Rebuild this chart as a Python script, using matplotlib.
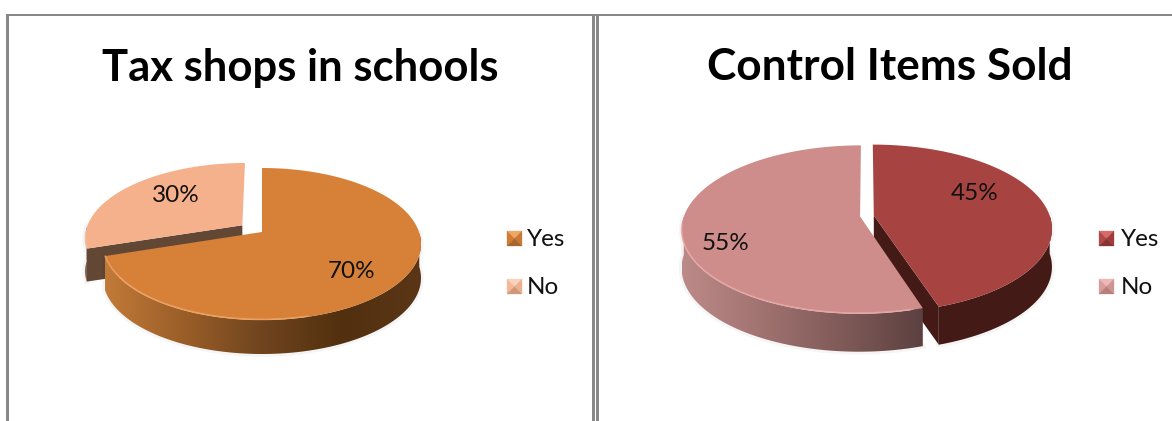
import numpy as np
import matplotlib
matplotlib.use("Agg")
import matplotlib.pyplot as plt
from matplotlib.colors import LinearSegmentedColormap
from matplotlib.patches import Polygon

# Chart content
categories = ["Yes", "No"]
tax_shops = [70, 30]
control_items = [45, 55]
title_left = "Tax shops in schools"
title_right = "Control Items Sold"

W, H = 1172, 421
fig = plt.figure(figsize=(W / 100, H / 100), dpi=100, facecolor="white")
ax = fig.add_axes([0, 0, 1, 1])
ax.set_xlim(0, W)
ax.set_ylim(H, 0)
ax.axis("off")
FONT = "Lato"
GRAY = "#888888"


def project(theta_deg, r, offset, geom):
    """Perspective projection of a point of the tilted disc into pixels."""
    cx, cy, rx, s, k = geom
    t = np.radians(theta_deg)
    u = r * np.cos(t) + offset[0]
    v = r * np.sin(t) + offset[1]
    w = 1 + k * v
    return cx + rx * u / w, cy - s * v / w


def draw_gradient(poly_xy, stops, x0, x1, z):
    """Fill a polygon with a horizontal colour gradient."""
    cmap = LinearSegmentedColormap.from_list("wall", stops)
    ys = poly_xy[:, 1]
    img = ax.imshow(np.linspace(0, 1, 256)[None, :], cmap=cmap, aspect="auto",
                    extent=(x0, x1, ys.max(), ys.min()), zorder=z)
    clip = Polygon(poly_xy, closed=True, transform=ax.transData, fc="none", ec="none")
    ax.add_patch(clip)
    img.set_clip_path(clip)
    ax.set_xlim(0, W)
    ax.set_ylim(H, 0)


def draw_slice(start, value, explode, geom, depth, style, z):
    """Draw one slice: soft shadow, outer wall, cut face, top surface and rim."""
    sweep = value * 3.6
    end = start - sweep  # slices run clockwise
    mid = np.radians((start + end) / 2)
    off = (explode * np.cos(mid), explode * np.sin(mid))
    angles = np.linspace(start, end, 240)
    ax_pts = np.array([project(a, 1, off, geom) for a in angles])
    apex = np.array(project(0, 0, off, geom))
    down = np.array([0, depth])

    # Outer wall: only the part on the viewer's side of the disc
    norm = (angles + 360) % 360
    front = (norm >= 180) & (norm <= 360)
    if front.any():
        arc = ax_pts[front]
        wall = np.vstack([arc, (arc + down)[::-1]])
        ax.plot(wall[:, 0], wall[:, 1], color="#000000", alpha=0.04, lw=4, zorder=z)
        if len(style["wall"]) > 1:
            draw_gradient(wall, style["wall"], arc[:, 0].min(), arc[:, 0].max(), z + 0.1)
        else:
            ax.add_patch(Polygon(wall, closed=True, fc=style["wall"][0], ec="none", zorder=z + 0.1))

    # Cut face of the slice where it looks towards the viewer
    if style.get("face"):
        tip = ax_pts[-1] if style["face_end"] == "end" else ax_pts[0]
        face = np.array([apex, tip, tip + down, apex + down])
        ax.add_patch(Polygon(face, closed=True, fc=style["face"], ec="none", zorder=z + 0.2))

    # Top surface
    top = np.vstack([apex, ax_pts])
    ax.add_patch(Polygon(top, closed=True, fc=style["top"], ec="none", zorder=z + 0.3))

    # Lit bevel along the left-hand part of the front rim
    lit = (norm >= 185) & (norm <= 285)
    if lit.any():
        arc = ax_pts[lit]
        ax.plot(arc[:, 0], arc[:, 1] - 0.6, color=style["rim"], lw=1.2, alpha=0.7,
                solid_capstyle="butt", zorder=z + 0.4)


def draw_key(x, y, size, colours):
    """Bevelled square legend key built from four triangles."""
    x1, y1 = x + size, y + size
    c = (x + size / 2, y + size / 2)
    tris = [[(x, y), (x1, y), c], [(x, y), (x, y1), c], [(x1, y), (x1, y1), c], [(x, y1), (x1, y1), c]]
    for tri, col in zip(tris, colours):
        ax.add_patch(Polygon(tri, closed=True, fc=col, ec=col, lw=0.2, zorder=5))


# Panel frame
ax.fill_between([6, 9], 14, H, color=GRAY, lw=0)
ax.fill_between([6, W], 14, 15.5, color=GRAY, lw=0)
ax.fill_between([592, 595], 14, H, color=GRAY, lw=0)
ax.fill_between([596, 598.5], 14, H, color=GRAY, lw=0)

# Left pie: 70% wedge, 30% wedge pulled out up and to the left
geom_l = (262, 232, 157, 74.1, 0.158)
style_yes_l = dict(top="#D68038", wall=["#C27A38", "#9A5E28", "#6F441E", "#52300F", "#5A3616"], rim="#F4AD70")
style_no_l = dict(top="#F5B18C", wall=["#624735"], rim="#F9CDB4", face="#624735", face_end="start")
draw_slice(90 - tax_shops[0] * 3.6, tax_shops[1], 0.157, geom_l, 33, style_no_l, 2)
draw_slice(90, tax_shops[0], 0.0, geom_l, 34, style_yes_l, 3)

# Right pie: both wedges pulled slightly apart
geom_r = (866.5, 216, 176, 82, 0.155)
style_yes_r = dict(top="#A74442", wall=["#441A17"], rim="#B85654", face="#441A17", face_end="end")
style_no_r = dict(top="#CE8C8B", wall=["#BC8A89", "#A07270", "#7F5A58", "#5C4040"], rim="#EDB0AE")
draw_slice(90, control_items[0], 0.042, geom_r, 38, style_yes_r, 2)
draw_slice(90 - control_items[0] * 3.6, control_items[1], 0.037, geom_r, 38, style_no_r, 3)

# Titles
ax.text(300, 67.5, title_left, family=FONT, weight="bold", fontsize=31.4, ha="center", va="center", color="black")
ax.text(890, 67.5, title_right, family=FONT, weight="bold", fontsize=31.8, ha="center", va="center", color="black")

# Percentage labels
label_xy_l = [(352, 271), (176, 196)]
label_xy_r = [(975, 193), (726, 243)]
for vals, spots in ((tax_shops, label_xy_l), (control_items, label_xy_r)):
    for v, (x, y) in zip(vals, spots):
        ax.text(x, y, f"{v}%", family=FONT, fontsize=17.5, ha="center", va="center", color="#111111", zorder=8)

# Legends
keys_l = [["#F0A868", "#D07C34", "#C87A34", "#A8662A"], ["#F8D4BE", "#F3B898", "#EFB090", "#D09878"]]
keys_r = [["#D86A68", "#B04A48", "#A03C3A", "#883432"], ["#EDB8B6", "#D89C9A", "#D09492", "#B87E7C"]]
for key_x, text_x, palette in ((507, 526.5, keys_l), (1099, 1121, keys_r)):
    for name, key_y, cols in zip(categories, (231, 279), palette):
        draw_key(key_x, key_y, 15, cols)
        ax.text(text_x, key_y + 8.5, name, family=FONT, fontsize=17.5, ha="left", va="center", color="#111111")

fig.savefig("out.png", dpi=100, facecolor="white")
